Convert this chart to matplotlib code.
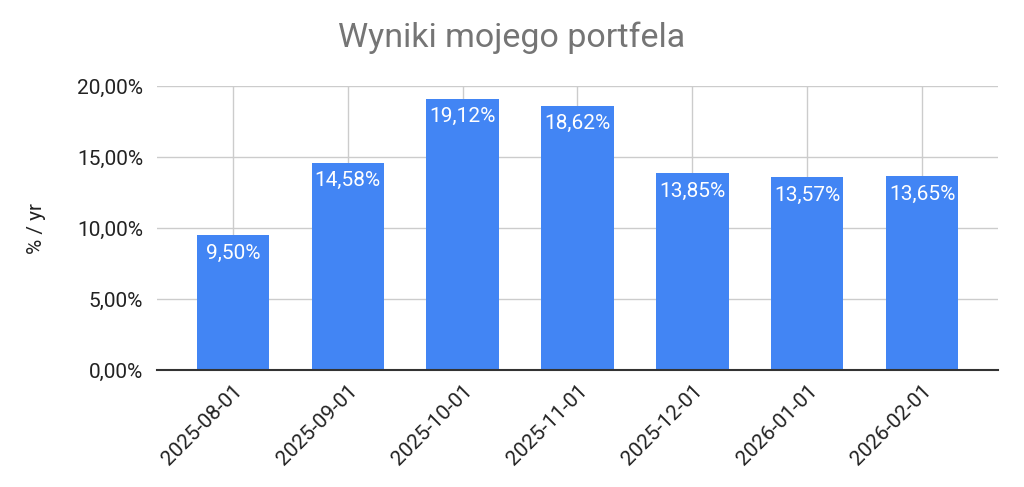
import matplotlib.pyplot as plt
from matplotlib.ticker import FuncFormatter

plt.rcParams['font.family'] = ['Roboto', 'DejaVu Sans']

# dane z wykresu
daty = ['2025-08-01', '2025-09-01', '2025-10-01', '2025-11-01',
        '2025-12-01', '2026-01-01', '2026-02-01']
wyniki = [9.50, 14.58, 19.12, 18.62, 13.85, 13.57, 13.65]
yticks = [0, 5, 10, 15, 20]


def pl_pct(v, pos=None):
    # format polski: przecinek zamiast kropki
    return f'{v:.2f}%'.replace('.', ',')


fig = plt.figure(figsize=(10.24, 4.87), dpi=100)
ax = fig.add_axes([0.1533, 0.2402, 0.8213, 0.5832])

x = range(len(daty))
bars = ax.bar(x, wyniki, width=0.63, color='#4285F4', zorder=3)

for b, v in zip(bars, wyniki):
    ax.annotate(pl_pct(v), (b.get_x() + b.get_width() / 2, v),
                xytext=(0, -6), textcoords='offset points',
                ha='center', va='top', color='white', fontsize=15, zorder=4)

ax.set_xlim(-0.66, len(daty) - 1 + 0.66)
ax.set_ylim(0, 20)
ax.set_yticks(yticks)
ax.yaxis.set_major_formatter(FuncFormatter(pl_pct))
ax.set_xticks(list(x))
ax.set_xticklabels(daty, rotation=45, ha='right', rotation_mode='anchor')

ax.grid(True, color='#cccccc', linewidth=1, zorder=0)
for s in ['top', 'right', 'left']:
    ax.spines[s].set_visible(False)
ax.spines['bottom'].set_color('#333333')
ax.spines['bottom'].set_linewidth(1.5)
ax.spines['bottom'].set_zorder(5)
ax.tick_params(axis='both', length=0, labelsize=15, colors='#222222')
ax.tick_params(axis='y', pad=10)
ax.tick_params(axis='x', pad=8)

ax.set_ylabel('% / yr', fontsize=15, color='#222222', labelpad=22)
fig.suptitle('Wyniki mojego portfela', fontsize=24.5, color='#757575', y=0.955)

plt.savefig('out.png', dpi=100)
